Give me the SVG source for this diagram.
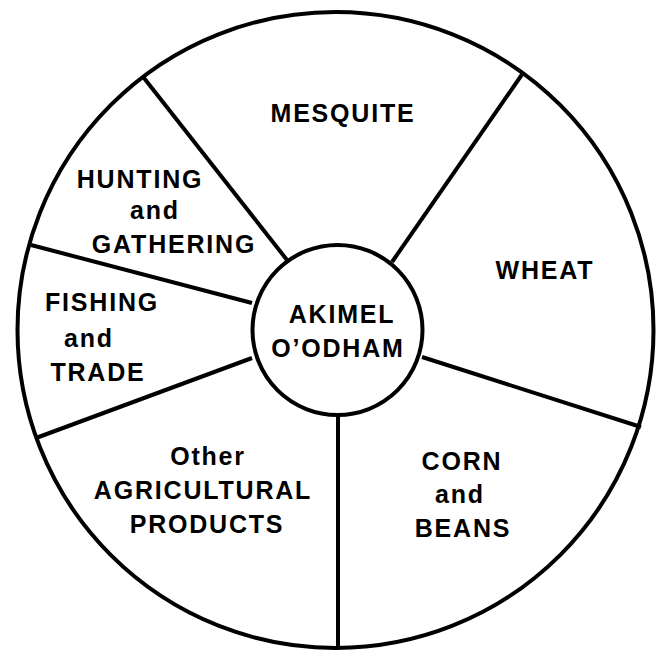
<svg xmlns="http://www.w3.org/2000/svg" width="660" height="650" viewBox="0 0 660 650">
<style>
.ln{stroke:#000;stroke-width:4;fill:none;stroke-linecap:butt}
.t{font-family:"Liberation Sans",Arial,Helvetica,sans-serif;font-weight:bold;font-size:25px;letter-spacing:1.8px;fill:#000;text-anchor:middle}
</style>
<rect width="660" height="650" fill="#fff"/>
<g id="wheel">
<circle class="ln" cx="335.5" cy="330" r="318"/>
</g>
<g id="connectors">
<line class="ln" x1="287" y1="260" x2="144" y2="78"/>
<line class="ln" x1="392" y1="262" x2="523" y2="73"/>
<line class="ln" x1="422" y1="357" x2="641" y2="427"/>
<line class="ln" x1="338" y1="415" x2="338" y2="648"/>
<line class="ln" x1="252" y1="358" x2="36" y2="438"/>
<line class="ln" x1="252" y1="303" x2="31" y2="245"/>
</g>
<g id="center">
<circle class="ln" cx="337.5" cy="330" r="85" fill="#fff"/>
<text class="t" x="342" y="323">AKIMEL</text>
<text class="t" x="338" y="357">O’ODHAM</text>
</g>
<g id="mesquite"><text class="t" x="343" y="122">MESQUITE</text></g>
<g id="wheat"><text class="t" x="545" y="279">WHEAT</text></g>
<g id="corn"><text class="t" x="462" y="470">CORN</text><text class="t" x="460" y="503">and</text><text class="t" x="463" y="537">BEANS</text></g>
<g id="other"><text class="t" x="208" y="465">Other</text><text class="t" x="203" y="499">AGRICULTURAL</text><text class="t" x="207" y="533">PRODUCTS</text></g>
<g id="fishing"><text class="t" x="102" y="311">FISHING</text><text class="t" x="89" y="347">and</text><text class="t" x="98" y="381">TRADE</text></g>
<g id="hunting"><text class="t" x="140" y="188">HUNTING</text><text class="t" x="155" y="219">and</text><text class="t" x="174" y="253">GATHERING</text></g>
</svg>
